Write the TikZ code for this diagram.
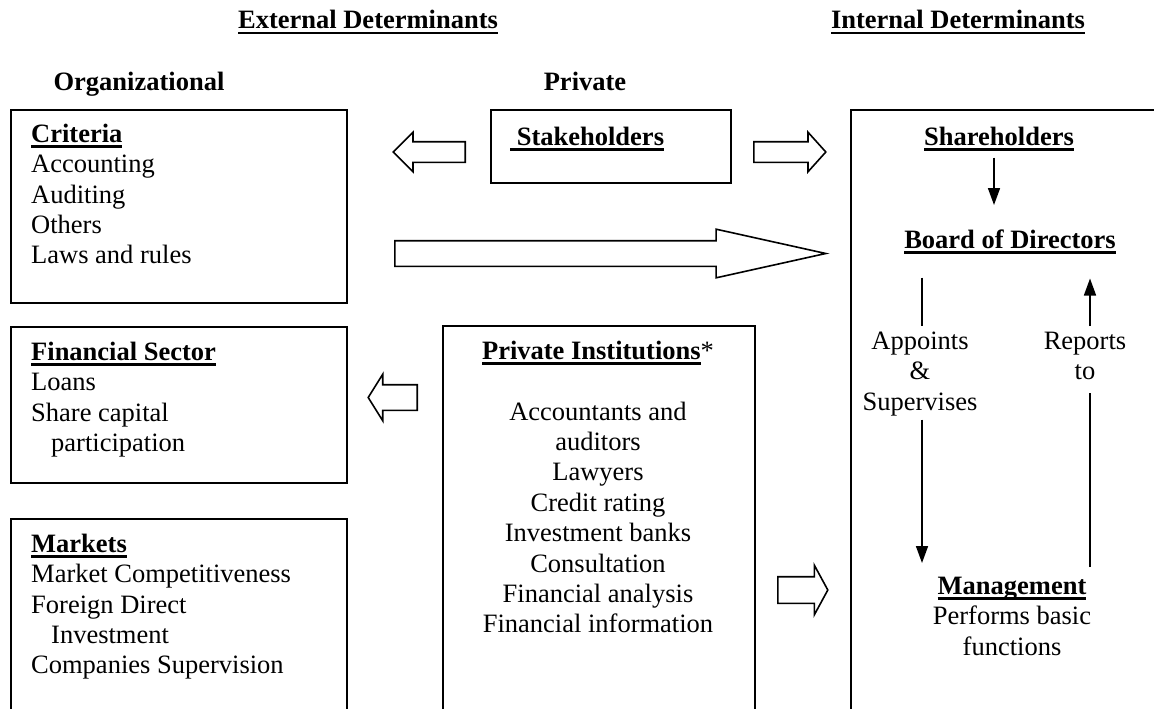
\documentclass[tikz,border=0pt]{standalone}
\usepackage{fontspec}
\setmainfont{Liberation Serif}
\usetikzlibrary{shapes.arrows,arrows.meta}
\newcommand\undl[1]{\setbox0=\hbox{#1}\rlap{\rule[-5.5pt]{\wd0}{2.6pt}}\box0}

\begin{document}
\begin{tikzpicture}[x=1pt,y=-1pt,
  every node/.style={font=\fontsize{26.5}{30.4}\selectfont,inner sep=0pt},
  box/.style={draw,line width=1.6pt,anchor=north west},
  txt/.style={align=left,anchor=north west,execute at begin node=\strut,execute at end node=\strut},
  ctxt/.style={align=center,anchor=north,execute at begin node=\strut,execute at end node=\strut},
  heading/.style={anchor=base,font=\fontsize{26.5}{30.4}\selectfont\bfseries},
  fatarrow/.style={draw,line width=1.6pt,single arrow,anchor=tail,inner xsep=0pt,inner ysep=9.5pt,minimum width=38pt,single arrow head extend=9.5pt},
  link/.style={line width=1.6pt},
  pointer/.style={link,-{Triangle[length=17pt,width=12pt]}}]
\useasboundingbox (0,0) rectangle (1154,709);
\clip (0,0) rectangle (1154,709);

\node[heading] (ext) at (368,29) {\undl{External Determinants}};
\node[heading] (int) at (958,29) {\undl{Internal Determinants}};
\node[heading] (org) at (139,91) {Organizational};
\node[heading] (priv) at (585,91) {Private};

\node[box,minimum width=336pt,minimum height=193pt] (crit) at (10,109) {};
\node[txt] (crittxt) at (31,123.7) {\textbf{\undl{Criteria}}\\Accounting\\Auditing\\Others\\Laws and rules};
\node[box,minimum width=336pt,minimum height=156pt] (fin) at (10,326) {};
\node[txt] (fintxt) at (31,341.7) {\textbf{\undl{Financial Sector}}\\Loans\\Share capital\\\hspace*{20pt}participation};
\node[box,minimum width=336pt,minimum height=210pt] (mkt) at (10,518) {};
\node[txt] (mkttxt) at (31,533.7) {\textbf{\undl{Markets}}\\Market Competitiveness\\Foreign Direct\\\hspace*{20pt}Investment\\Companies Supervision};

\node[box,minimum width=240pt,minimum height=73pt] (stake) at (490,109) {};
\node[txt] (staketxt) at (510,123.7) {\textbf{\undl{\ Stakeholders}}};
\node[box,minimum width=312pt,minimum height=400pt] (pinst) at (442,325) {};
\node[ctxt] (pitxt) at (598,340.7) {\textbf{\undl{Private Institutions}}*\\[30.4pt]Accountants and\\auditors\\Lawyers\\Credit rating\\Investment banks\\Consultation\\Financial analysis\\Financial information};

\node[box,minimum width=320pt,minimum height=620pt] (intl) at (850,109) {};
\node[ctxt] (sh) at (999,123.7) {\textbf{\undl{Shareholders}}};
\node[ctxt] (bod) at (1010,226.7) {\textbf{\undl{Board of Directors}}};
\node[ctxt] (apt) at (920,331.7) {Appoints\\\&\\Supervises};
\node[ctxt] (rep) at (1085,331.7) {Reports\\to};
\node[ctxt] (mgmt) at (1012,576.7) {\textbf{\undl{Management}}\\Performs basic\\functions};

\node[fatarrow,minimum height=72pt,single arrow tip angle=90,shape border rotate=180] (a1) at (466,152) {};
\node[fatarrow,minimum height=72pt,single arrow tip angle=96] (a2) at (753,152) {};
\node[fatarrow,minimum height=431pt,minimum width=47pt,inner ysep=12pt,single arrow head extend=11.5pt,single arrow tip angle=25] (a3) at (394,253.5) {};
\node[fatarrow,minimum height=49pt,minimum width=45pt,inner ysep=12pt,single arrow head extend=10.5pt,single arrow tip angle=116,shape border rotate=180] (a4) at (418,397.5) {};
\node[fatarrow,minimum height=50pt,minimum width=48pt,inner ysep=12.5pt,single arrow head extend=11.5pt,single arrow tip angle=123] (a5) at (777,590) {};

\draw[pointer] ([xshift=-5pt,yshift=-3pt]sh.south) -- ([xshift=-16pt,yshift=21.7pt]bod.north);
\draw[link] ([xshift=-88pt,yshift=-20pt]bod.south) -- ([xshift=2pt,yshift=5.7pt]apt.north);
\draw[pointer] ([xshift=2pt]apt.south) -- ([xshift=-90pt,yshift=13.7pt]mgmt.north);
\draw[link] ([xshift=78pt,yshift=9.7pt]mgmt.north) -- ([xshift=5pt,yshift=-4.5pt]rep.south);
\draw[pointer] ([xshift=5pt,yshift=5.7pt]rep.north) -- ([xshift=80pt,yshift=-21pt]bod.south);
\end{tikzpicture}
\end{document}
